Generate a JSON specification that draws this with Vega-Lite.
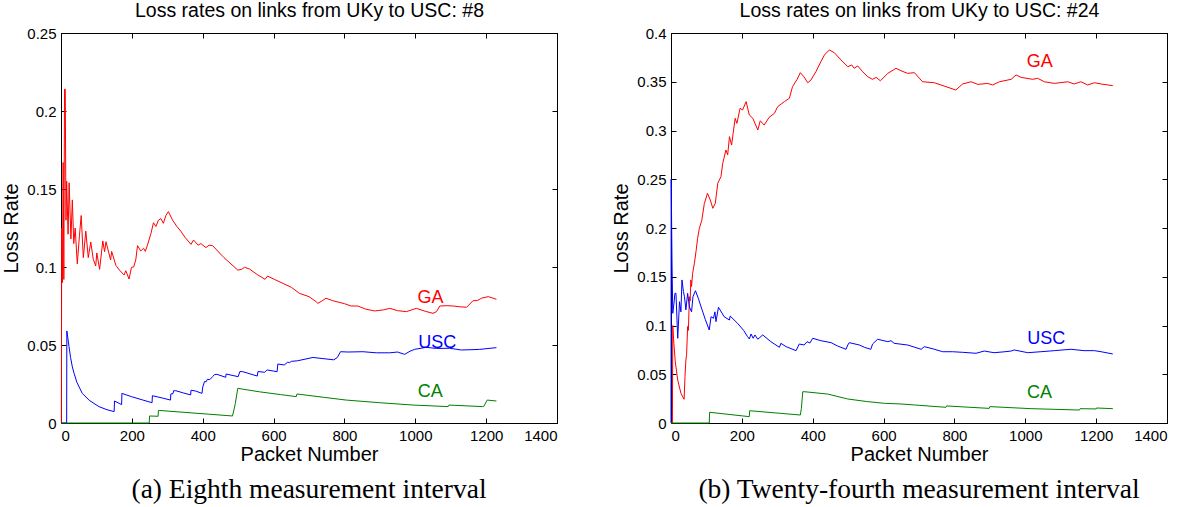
{
  "$schema": "https://vega.github.io/schema/vega-lite/v6.json",
  "background": "white",
  "padding": {"left": 1, "top": 0, "right": 5, "bottom": 0},
  "datasets": {
    "la": [
      {"s":"GA","x":0,"y":0},{"s":"GA","x":1,"y":0},{"s":"GA","x":2,"y":0.125},{"s":"GA","x":4,"y":0.09},{"s":"GA","x":6,"y":0.167},{"s":"GA","x":8,"y":0.092},{"s":"GA","x":10,"y":0.214},{"s":"GA","x":12,"y":0.214},{"s":"GA","x":14,"y":0.13},{"s":"GA","x":16,"y":0.155},{"s":"GA","x":20,"y":0.121},{"s":"GA","x":23,"y":0.154},{"s":"GA","x":28,"y":0.118},{"s":"GA","x":32,"y":0.143},{"s":"GA","x":36,"y":0.115},{"s":"GA","x":40,"y":0.125},{"s":"GA","x":46,"y":0.102},{"s":"GA","x":52,"y":0.12},{"s":"GA","x":57,"y":0.133},{"s":"GA","x":63,"y":0.106},{"s":"GA","x":70,"y":0.123},{"s":"GA","x":77,"y":0.106},{"s":"GA","x":84,"y":0.116},{"s":"GA","x":91,"y":0.105},{"s":"GA","x":98,"y":0.1006},{"s":"GA","x":101,"y":0.109},{"s":"GA","x":109,"y":0.0985},{"s":"GA","x":118,"y":0.1167},{"s":"GA","x":123,"y":0.1098},{"s":"GA","x":127,"y":0.1162},{"s":"GA","x":140,"y":0.1045},{"s":"GA","x":143,"y":0.11},{"s":"GA","x":155,"y":0.101},{"s":"GA","x":165,"y":0.098},{"s":"GA","x":178,"y":0.0949},{"s":"GA","x":183,"y":0.0976},{"s":"GA","x":192,"y":0.0923},{"s":"GA","x":199,"y":0.0998},{"s":"GA","x":205,"y":0.1},{"s":"GA","x":211,"y":0.1045},{"s":"GA","x":216,"y":0.1137},{"s":"GA","x":225,"y":0.1103},{"s":"GA","x":233,"y":0.112},{"s":"GA","x":238,"y":0.11},{"s":"GA","x":244,"y":0.114},{"s":"GA","x":254,"y":0.1216},{"s":"GA","x":261,"y":0.1284},{"s":"GA","x":268,"y":0.126},{"s":"GA","x":275,"y":0.13},{"s":"GA","x":282,"y":0.131},{"s":"GA","x":289,"y":0.128},{"s":"GA","x":296,"y":0.133},{"s":"GA","x":303,"y":0.1355},{"s":"GA","x":315,"y":0.13},{"s":"GA","x":327,"y":0.126},{"s":"GA","x":338,"y":0.123},{"s":"GA","x":350,"y":0.119},{"s":"GA","x":367,"y":0.1145},{"s":"GA","x":374,"y":0.1173},{"s":"GA","x":387,"y":0.114},{"s":"GA","x":395,"y":0.115},{"s":"GA","x":409,"y":0.1124},{"s":"GA","x":418,"y":0.114},{"s":"GA","x":428,"y":0.1137},{"s":"GA","x":460,"y":0.106},{"s":"GA","x":499,"y":0.098},{"s":"GA","x":510,"y":0.0985},{"s":"GA","x":518,"y":0.0998},{"s":"GA","x":532,"y":0.0987},{"s":"GA","x":555,"y":0.095},{"s":"GA","x":576,"y":0.0921},{"s":"GA","x":583,"y":0.0942},{"s":"GA","x":602,"y":0.0921},{"s":"GA","x":650,"y":0.087},{"s":"GA","x":673,"y":0.0831},{"s":"GA","x":700,"y":0.081},{"s":"GA","x":720,"y":0.0778},{"s":"GA","x":725,"y":0.0767},{"s":"GA","x":735,"y":0.078},{"s":"GA","x":748,"y":0.08},{"s":"GA","x":767,"y":0.0784},{"s":"GA","x":800,"y":0.0765},{"s":"GA","x":819,"y":0.075},{"s":"GA","x":838,"y":0.075},{"s":"GA","x":860,"y":0.073},{"s":"GA","x":885,"y":0.0718},{"s":"GA","x":910,"y":0.0725},{"s":"GA","x":928,"y":0.0735},{"s":"GA","x":950,"y":0.072},{"s":"GA","x":975,"y":0.0714},{"s":"GA","x":1003,"y":0.0735},{"s":"GA","x":1030,"y":0.0715},{"s":"GA","x":1050,"y":0.0703},{"s":"GA","x":1060,"y":0.0714},{"s":"GA","x":1069,"y":0.075},{"s":"GA","x":1090,"y":0.0752},{"s":"GA","x":1107,"y":0.075},{"s":"GA","x":1125,"y":0.0745},{"s":"GA","x":1145,"y":0.0742},{"s":"GA","x":1163,"y":0.0784},{"s":"GA","x":1175,"y":0.0785},{"s":"GA","x":1187,"y":0.08},{"s":"GA","x":1206,"y":0.081},{"s":"GA","x":1229,"y":0.0793},
      {"s":"USC","x":0,"y":0},{"s":"USC","x":16,"y":0},{"s":"USC","x":16.5,"y":0.059},{"s":"USC","x":19,"y":0.055},{"s":"USC","x":22.6,"y":0.049},{"s":"USC","x":27,"y":0.042},{"s":"USC","x":32,"y":0.036},{"s":"USC","x":37,"y":0.0318},{"s":"USC","x":45,"y":0.026},{"s":"USC","x":60,"y":0.019},{"s":"USC","x":80,"y":0.0145},{"s":"USC","x":107,"y":0.0105},{"s":"USC","x":130,"y":0.0085},{"s":"USC","x":150,"y":0.0073},{"s":"USC","x":151,"y":0.0141},{"s":"USC","x":164,"y":0.0126},{"s":"USC","x":171,"y":0.0118},{"s":"USC","x":172,"y":0.019},{"s":"USC","x":200,"y":0.0168},{"s":"USC","x":230,"y":0.0148},{"s":"USC","x":257,"y":0.013},{"s":"USC","x":258,"y":0.0175},{"s":"USC","x":290,"y":0.0158},{"s":"USC","x":309,"y":0.0147},{"s":"USC","x":310,"y":0.0186},{"s":"USC","x":316,"y":0.0188},{"s":"USC","x":318,"y":0.0207},{"s":"USC","x":324,"y":0.0207},{"s":"USC","x":345,"y":0.0193},{"s":"USC","x":366,"y":0.018},{"s":"USC","x":367,"y":0.021},{"s":"USC","x":380,"y":0.0205},{"s":"USC","x":398,"y":0.019},{"s":"USC","x":400,"y":0.023},{"s":"USC","x":405,"y":0.0265},{"s":"USC","x":410,"y":0.0265},{"s":"USC","x":413,"y":0.028},{"s":"USC","x":420,"y":0.0278},{"s":"USC","x":428,"y":0.0297},{"s":"USC","x":433,"y":0.031},{"s":"USC","x":440,"y":0.0312},{"s":"USC","x":465,"y":0.0293},{"s":"USC","x":466,"y":0.0314},{"s":"USC","x":500,"y":0.0297},{"s":"USC","x":505,"y":0.033},{"s":"USC","x":513,"y":0.0329},{"s":"USC","x":554,"y":0.0301},{"s":"USC","x":556,"y":0.033},{"s":"USC","x":575,"y":0.0325},{"s":"USC","x":579,"y":0.0335},{"s":"USC","x":582,"y":0.034},{"s":"USC","x":610,"y":0.0329},{"s":"USC","x":612,"y":0.0378},{"s":"USC","x":630,"y":0.0372},{"s":"USC","x":640,"y":0.039},{"s":"USC","x":645,"y":0.0387},{"s":"USC","x":650,"y":0.0395},{"s":"USC","x":668,"y":0.0399},{"s":"USC","x":711,"y":0.042},{"s":"USC","x":770,"y":0.0405},{"s":"USC","x":780,"y":0.042},{"s":"USC","x":789,"y":0.0457},{"s":"USC","x":810,"y":0.0455},{"s":"USC","x":852,"y":0.0457},{"s":"USC","x":890,"y":0.045},{"s":"USC","x":928,"y":0.045},{"s":"USC","x":950,"y":0.0455},{"s":"USC","x":970,"y":0.044},{"s":"USC","x":985,"y":0.046},{"s":"USC","x":998,"y":0.0472},{"s":"USC","x":1031,"y":0.0485},{"s":"USC","x":1060,"y":0.0478},{"s":"USC","x":1097,"y":0.0479},{"s":"USC","x":1130,"y":0.0468},{"s":"USC","x":1160,"y":0.047},{"s":"USC","x":1182,"y":0.0472},{"s":"USC","x":1229,"y":0.0483},
      {"s":"CA","x":0,"y":0},{"s":"CA","x":249,"y":0},{"s":"CA","x":250,"y":0.0045},{"s":"CA","x":274,"y":0.0043},{"s":"CA","x":275,"y":0.0081},{"s":"CA","x":350,"y":0.0068},{"s":"CA","x":420,"y":0.0056},{"s":"CA","x":484,"y":0.0045},{"s":"CA","x":488,"y":0.0083},{"s":"CA","x":492,"y":0.0125},{"s":"CA","x":499,"y":0.0222},{"s":"CA","x":560,"y":0.02},{"s":"CA","x":620,"y":0.0182},{"s":"CA","x":664,"y":0.0169},{"s":"CA","x":666,"y":0.0186},{"s":"CA","x":740,"y":0.0165},{"s":"CA","x":805,"y":0.0147},{"s":"CA","x":900,"y":0.013},{"s":"CA","x":994,"y":0.0115},{"s":"CA","x":1093,"y":0.0105},{"s":"CA","x":1095,"y":0.0115},{"s":"CA","x":1190,"y":0.0105},{"s":"CA","x":1193,"y":0.0105},{"s":"CA","x":1203,"y":0.0147},{"s":"CA","x":1229,"y":0.0141}
    ],
    "lb": [
      {"s":"GA","x":0,"y":0},{"s":"GA","x":4,"y":0},{"s":"GA","x":5,"y":0.1},{"s":"GA","x":8,"y":0.082},{"s":"GA","x":12,"y":0.063},{"s":"GA","x":19,"y":0.044},{"s":"GA","x":28,"y":0.0305},{"s":"GA","x":37,"y":0.0243},{"s":"GA","x":39.5,"y":0.0475},{"s":"GA","x":42,"y":0.0646},{"s":"GA","x":44,"y":0.07},{"s":"GA","x":47,"y":0.099},{"s":"GA","x":49,"y":0.095},{"s":"GA","x":52,"y":0.1295},{"s":"GA","x":54,"y":0.125},{"s":"GA","x":56,"y":0.1467},{"s":"GA","x":58,"y":0.14},{"s":"GA","x":61,"y":0.1535},{"s":"GA","x":66,"y":0.1638},{"s":"GA","x":71,"y":0.177},{"s":"GA","x":75,"y":0.189},{"s":"GA","x":80,"y":0.1997},{"s":"GA","x":87,"y":0.208},{"s":"GA","x":94,"y":0.225},{"s":"GA","x":103,"y":0.2356},{"s":"GA","x":111,"y":0.2287},{"s":"GA","x":118,"y":0.2202},{"s":"GA","x":125,"y":0.2253},{"s":"GA","x":132,"y":0.2459},{"s":"GA","x":141,"y":0.2526},{"s":"GA","x":146,"y":0.2663},{"s":"GA","x":155,"y":0.28},{"s":"GA","x":160,"y":0.275},{"s":"GA","x":165,"y":0.2937},{"s":"GA","x":171,"y":0.2851},{"s":"GA","x":181,"y":0.3125},{"s":"GA","x":186,"y":0.3073},{"s":"GA","x":195,"y":0.3228},{"s":"GA","x":202,"y":0.321},{"s":"GA","x":212,"y":0.3296},{"s":"GA","x":221,"y":0.3159},{"s":"GA","x":231,"y":0.3125},{"s":"GA","x":245,"y":0.3005},{"s":"GA","x":252,"y":0.31},{"s":"GA","x":263,"y":0.3056},{"s":"GA","x":277,"y":0.3135},{"s":"GA","x":292,"y":0.3176},{"s":"GA","x":301,"y":0.3244},{"s":"GA","x":320,"y":0.3296},{"s":"GA","x":334,"y":0.333},{"s":"GA","x":343,"y":0.345},{"s":"GA","x":356,"y":0.3525},{"s":"GA","x":365,"y":0.3593},{"s":"GA","x":375,"y":0.3552},{"s":"GA","x":386,"y":0.349},{"s":"GA","x":395,"y":0.3518},{"s":"GA","x":409,"y":0.3603},{"s":"GA","x":423,"y":0.3706},{"s":"GA","x":433,"y":0.3774},{"s":"GA","x":447,"y":0.3826},{"s":"GA","x":461,"y":0.3798},{"s":"GA","x":480,"y":0.3723},{"s":"GA","x":499,"y":0.3654},{"s":"GA","x":510,"y":0.3672},{"s":"GA","x":517,"y":0.3638},{"s":"GA","x":527,"y":0.3662},{"s":"GA","x":541,"y":0.3603},{"s":"GA","x":555,"y":0.3552},{"s":"GA","x":569,"y":0.3525},{"s":"GA","x":579,"y":0.3545},{"s":"GA","x":591,"y":0.351},{"s":"GA","x":612,"y":0.3586},{"s":"GA","x":635,"y":0.3638},{"s":"GA","x":649,"y":0.3613},{"s":"GA","x":668,"y":0.3586},{"s":"GA","x":687,"y":0.3593},{"s":"GA","x":710,"y":0.35},{"s":"GA","x":743,"y":0.349},{"s":"GA","x":771,"y":0.3456},{"s":"GA","x":804,"y":0.3415},{"s":"GA","x":823,"y":0.3477},{"s":"GA","x":847,"y":0.35},{"s":"GA","x":866,"y":0.3473},{"s":"GA","x":894,"y":0.3483},{"s":"GA","x":908,"y":0.3467},{"s":"GA","x":927,"y":0.35},{"s":"GA","x":960,"y":0.3525},{"s":"GA","x":974,"y":0.357},{"s":"GA","x":988,"y":0.3545},{"s":"GA","x":1021,"y":0.3525},{"s":"GA","x":1035,"y":0.3535},{"s":"GA","x":1054,"y":0.35},{"s":"GA","x":1082,"y":0.3483},{"s":"GA","x":1120,"y":0.35},{"s":"GA","x":1138,"y":0.3477},{"s":"GA","x":1157,"y":0.35},{"s":"GA","x":1176,"y":0.3467},{"s":"GA","x":1195,"y":0.349},{"s":"GA","x":1214,"y":0.3477},{"s":"GA","x":1247,"y":0.346},
      {"s":"USC","x":0,"y":0},{"s":"USC","x":0.5,"y":0.25},{"s":"USC","x":3,"y":0.16},{"s":"USC","x":5,"y":0.1125},{"s":"USC","x":9,"y":0.125},{"s":"USC","x":11,"y":0.133},{"s":"USC","x":14,"y":0.133},{"s":"USC","x":19,"y":0.0869},{"s":"USC","x":24,"y":0.1244},{"s":"USC","x":28,"y":0.114},{"s":"USC","x":31,"y":0.1467},{"s":"USC","x":35,"y":0.135},{"s":"USC","x":38,"y":0.1295},{"s":"USC","x":42,"y":0.116},{"s":"USC","x":47,"y":0.133},{"s":"USC","x":52,"y":0.119},{"s":"USC","x":58,"y":0.114},{"s":"USC","x":62,"y":0.1295},{"s":"USC","x":69,"y":0.1357},{"s":"USC","x":77,"y":0.128},{"s":"USC","x":85,"y":0.119},{"s":"USC","x":97,"y":0.106},{"s":"USC","x":108,"y":0.0954},{"s":"USC","x":113,"y":0.109},{"s":"USC","x":120,"y":0.1074},{"s":"USC","x":124,"y":0.114},{"s":"USC","x":127,"y":0.104},{"s":"USC","x":134,"y":0.1187},{"s":"USC","x":150,"y":0.109},{"s":"USC","x":165,"y":0.1056},{"s":"USC","x":167,"y":0.1097},{"s":"USC","x":188,"y":0.1022},{"s":"USC","x":205,"y":0.095},{"s":"USC","x":216,"y":0.0886},{"s":"USC","x":221,"y":0.0862},{"s":"USC","x":226,"y":0.0913},{"s":"USC","x":232,"y":0.0869},{"s":"USC","x":237,"y":0.0903},{"s":"USC","x":245,"y":0.0859},{"s":"USC","x":259,"y":0.0903},{"s":"USC","x":282,"y":0.0834},{"s":"USC","x":306,"y":0.0776},{"s":"USC","x":310,"y":0.0817},{"s":"USC","x":325,"y":0.0783},{"s":"USC","x":353,"y":0.0742},{"s":"USC","x":362,"y":0.081},{"s":"USC","x":376,"y":0.08},{"s":"USC","x":384,"y":0.0834},{"s":"USC","x":392,"y":0.082},{"s":"USC","x":400,"y":0.0869},{"s":"USC","x":423,"y":0.0844},{"s":"USC","x":452,"y":0.0824},{"s":"USC","x":470,"y":0.079},{"s":"USC","x":494,"y":0.0756},{"s":"USC","x":499,"y":0.08},{"s":"USC","x":503,"y":0.0824},{"s":"USC","x":532,"y":0.08},{"s":"USC","x":546,"y":0.0776},{"s":"USC","x":564,"y":0.0756},{"s":"USC","x":569,"y":0.081},{"s":"USC","x":583,"y":0.0859},{"s":"USC","x":612,"y":0.0834},{"s":"USC","x":621,"y":0.0844},{"s":"USC","x":630,"y":0.0817},{"s":"USC","x":668,"y":0.08},{"s":"USC","x":706,"y":0.0756},{"s":"USC","x":715,"y":0.0783},{"s":"USC","x":740,"y":0.076},{"s":"USC","x":767,"y":0.0731},{"s":"USC","x":795,"y":0.0731},{"s":"USC","x":823,"y":0.0725},{"s":"USC","x":861,"y":0.0715},{"s":"USC","x":884,"y":0.0738},{"s":"USC","x":912,"y":0.0721},{"s":"USC","x":940,"y":0.073},{"s":"USC","x":960,"y":0.0738},{"s":"USC","x":969,"y":0.0749},{"s":"USC","x":1007,"y":0.0721},{"s":"USC","x":1044,"y":0.0731},{"s":"USC","x":1082,"y":0.0742},{"s":"USC","x":1129,"y":0.0756},{"s":"USC","x":1166,"y":0.0742},{"s":"USC","x":1195,"y":0.0742},{"s":"USC","x":1214,"y":0.0731},{"s":"USC","x":1247,"y":0.0708},
      {"s":"CA","x":0,"y":0},{"s":"CA","x":108,"y":0},{"s":"CA","x":109,"y":0.011},{"s":"CA","x":221,"y":0.0065},{"s":"CA","x":222,"y":0.0126},{"s":"CA","x":365,"y":0.0082},{"s":"CA","x":368,"y":0.015},{"s":"CA","x":372,"y":0.0321},{"s":"CA","x":376,"y":0.0321},{"s":"CA","x":442,"y":0.0297},{"s":"CA","x":499,"y":0.0246},{"s":"CA","x":555,"y":0.0219},{"s":"CA","x":602,"y":0.0202},{"s":"CA","x":649,"y":0.0195},{"s":"CA","x":687,"y":0.0185},{"s":"CA","x":776,"y":0.0161},{"s":"CA","x":778,"y":0.0175},{"s":"CA","x":898,"y":0.015},{"s":"CA","x":900,"y":0.0168},{"s":"CA","x":1016,"y":0.0147},{"s":"CA","x":1153,"y":0.0133},{"s":"CA","x":1155,"y":0.0147},{"s":"CA","x":1200,"y":0.0144},{"s":"CA","x":1201,"y":0.0154},{"s":"CA","x":1247,"y":0.0147}
    ],
    "ta": [
      {"s":"GA","x":1043,"y":0.0801},{"s":"USC","x":1062,"y":0.0516},{"s":"CA","x":1042,"y":0.0199}
    ],
    "tb": [
      {"s":"GA","x":1041,"y":0.37},{"s":"USC","x":1059,"y":0.0862},{"s":"CA","x":1040,"y":0.0303}
    ]
  },
  "config": {
    "font": "Liberation Sans",
    "view": {"stroke": "black", "strokeWidth": 1},
    "axis": {"domainColor": "black", "tickColor": "black", "labelColor": "black", "titleColor": "black", "labelFontSize": 15, "titleFontSize": 20, "titleFontWeight": "normal", "tickSize": -5, "grid": false, "labelFont": "Liberation Sans", "titleFont": "Liberation Sans", "labelPadding": 10},
    "title": {"font": "Liberation Serif", "fontSize": 27.5, "fontWeight": "normal", "color": "black"}
  },
  "spacing": 53,
  "hconcat": [
    {
      "width": 496, "height": 390,
      "title": {"text": "(a) Eighth measurement interval", "orient": "bottom", "anchor": "middle", "offset": 12},
      "layer": [
        {
          "data": {"name": "la"},
          "mark": {"type": "line", "strokeWidth": 1},
          "encoding": {
            "x": {"field": "x", "type": "quantitative", "scale": {"domain": [0, 1400], "nice": false, "zero": false}, "axis": {"orient": "bottom", "values": [0, 200, 400, 600, 800, 1000, 1200, 1400], "format": "d", "title": "Packet Number", "titlePadding": 1}},
            "y": {"field": "y", "type": "quantitative", "scale": {"domain": [0, 0.25], "nice": false}, "axis": {"orient": "left", "values": [0, 0.05, 0.1, 0.15, 0.2, 0.25], "format": "~g", "title": "Loss Rate", "titlePadding": 5}},
            "color": {"field": "s", "type": "nominal", "scale": {"domain": ["GA", "USC", "CA"], "range": ["#ff0000", "#0000ff", "#008000"]}, "legend": null}
          }
        },
        {
          "data": {"name": "ta"},
          "mark": {"type": "text", "fontSize": 18, "font": "Liberation Sans", "align": "center", "baseline": "middle"},
          "encoding": {
            "x": {"field": "x", "type": "quantitative", "scale": {"domain": [0, 1400], "nice": false, "zero": false}, "axis": {"orient": "top", "values": [0, 200, 400, 600, 800, 1000, 1200, 1400], "labels": false, "title": "Loss rates on links from UKy to USC: #8", "titlePadding": 12, "titleFontSize": 19.5}},
            "y": {"field": "y", "type": "quantitative", "scale": {"domain": [0, 0.25], "nice": false}, "axis": {"orient": "right", "values": [0, 0.05, 0.1, 0.15, 0.2, 0.25], "labels": false, "title": null}},
            "text": {"field": "s"},
            "color": {"field": "s", "type": "nominal", "scale": {"domain": ["GA", "USC", "CA"], "range": ["#ff0000", "#0000ff", "#008000"]}, "legend": null}
          }
        }
      ],
      "resolve": {"axis": {"x": "independent", "y": "independent"}}
    },
    {
      "width": 496, "height": 390,
      "title": {"text": "(b) Twenty-fourth measurement interval", "orient": "bottom", "anchor": "middle", "offset": 12},
      "layer": [
        {
          "data": {"name": "lb"},
          "mark": {"type": "line", "strokeWidth": 1},
          "encoding": {
            "x": {"field": "x", "type": "quantitative", "scale": {"domain": [0, 1400], "nice": false, "zero": false}, "axis": {"orient": "bottom", "values": [0, 200, 400, 600, 800, 1000, 1200, 1400], "format": "d", "title": "Packet Number", "titlePadding": 1}},
            "y": {"field": "y", "type": "quantitative", "scale": {"domain": [0, 0.4], "nice": false}, "axis": {"orient": "left", "values": [0, 0.05, 0.1, 0.15, 0.2, 0.25, 0.3, 0.35, 0.4], "format": "~g", "title": "Loss Rate", "titlePadding": 5}},
            "color": {"field": "s", "type": "nominal", "scale": {"domain": ["GA", "USC", "CA"], "range": ["#ff0000", "#0000ff", "#008000"]}, "legend": null}
          }
        },
        {
          "data": {"name": "tb"},
          "mark": {"type": "text", "fontSize": 18, "font": "Liberation Sans", "align": "center", "baseline": "middle"},
          "encoding": {
            "x": {"field": "x", "type": "quantitative", "scale": {"domain": [0, 1400], "nice": false, "zero": false}, "axis": {"orient": "top", "values": [0, 200, 400, 600, 800, 1000, 1200, 1400], "labels": false, "title": "Loss rates on links from UKy to USC: #24", "titlePadding": 12, "titleFontSize": 19.5}},
            "y": {"field": "y", "type": "quantitative", "scale": {"domain": [0, 0.4], "nice": false}, "axis": {"orient": "right", "values": [0, 0.05, 0.1, 0.15, 0.2, 0.25, 0.3, 0.35, 0.4], "labels": false, "title": null}},
            "text": {"field": "s"},
            "color": {"field": "s", "type": "nominal", "scale": {"domain": ["GA", "USC", "CA"], "range": ["#ff0000", "#0000ff", "#008000"]}, "legend": null}
          }
        }
      ],
      "resolve": {"axis": {"x": "independent", "y": "independent"}}
    }
  ]
}
